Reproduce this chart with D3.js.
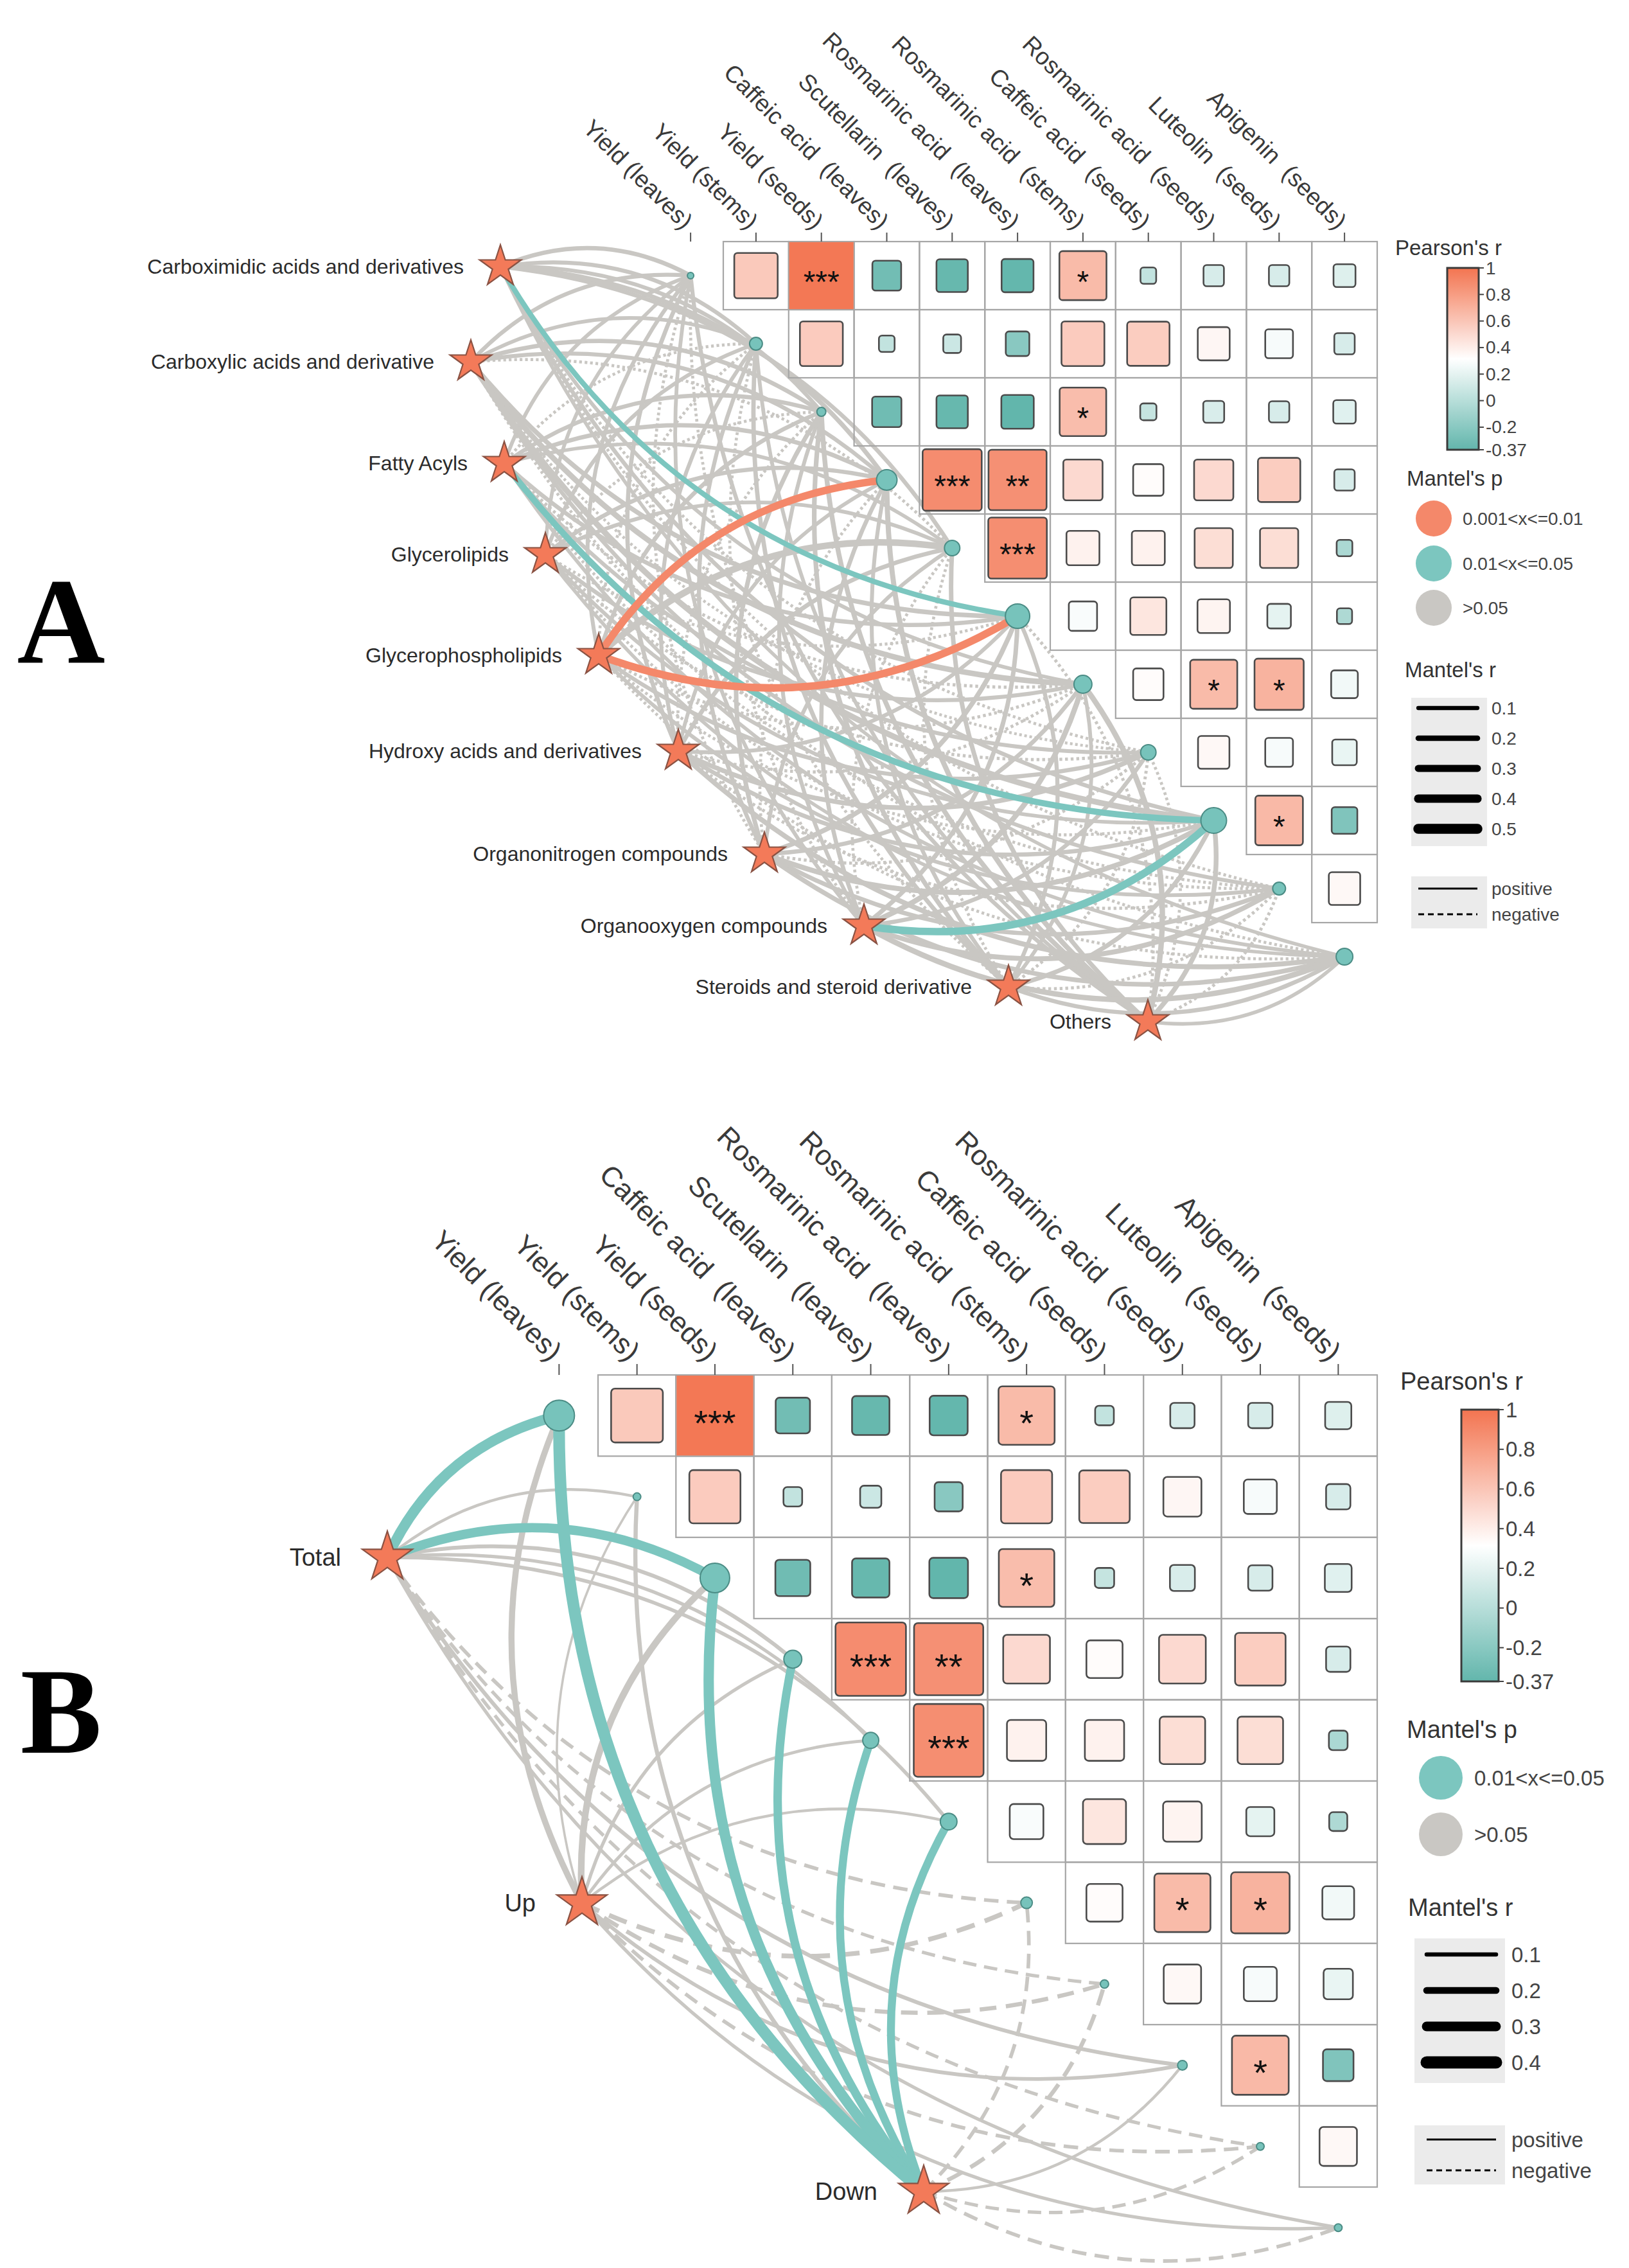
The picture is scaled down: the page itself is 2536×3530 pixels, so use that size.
<!DOCTYPE html>
<html><head><meta charset="utf-8">
<script src="https://cdn.jsdelivr.net/npm/d3@7"></script>
<style>body{margin:0;background:#fff}svg{display:block}text{font-family:"Liberation Sans",Arial,sans-serif}</style>
</head><body><svg id="c" width="2536" height="3530"></svg>
<script>
// ---------------- DATA ----------------
const variables = ["Yield (leaves)","Yield (stems)","Yield (seeds)","Caffeic acid  (leaves)","Scutellarin  (leaves)",
  "Rosmarinic acid  (leaves)","Rosmarinic acid  (stems)","Caffeic acid  (seeds)","Rosmarinic acid  (seeds)",
  "Luteolin  (seeds)","Apigenin  (seeds)"];
// Pearson's r, upper triangle: row i holds variables i+1..10
const pearsonRows = [
  [0.58, 0.98, -0.30, -0.35, -0.36, 0.65, 0.05, 0.14, 0.14, 0.17],
  [0.57, 0.05, 0.09, -0.20, 0.57, 0.56, 0.36, 0.28, 0.14],
  [-0.31, -0.35, -0.37, 0.64, 0.06, 0.15, 0.14, 0.18],
  [0.88, 0.86, 0.50, 0.33, 0.50, 0.56, 0.14],
  [0.87, 0.38, 0.38, 0.48, 0.48, -0.05],
  [0.29, 0.44, 0.37, 0.20, -0.04],
  [0.33, 0.65, 0.69, 0.26],
  [0.35, 0.28, 0.22],
  [0.66, -0.24],
  [0.35]
];
const signifRows = [
  ["", "***", "", "", "", "*", "", "", "", ""],
  ["", "", "", "", "", "", "", "", ""],
  ["", "", "", "*", "", "", "", ""],
  ["***", "**", "", "", "", "", ""],
  ["***", "", "", "", "", ""],
  ["", "", "", "", ""],
  ["", "*", "*", ""],
  ["", "", ""],
  ["*", ""],
  [""]
];
const colorTicks = [1, 0.8, 0.6, 0.4, 0.2, 0, -0.2, -0.37];

// Panel A: metabolite classes vs variables
const groupsA = ["Carboximidic acids and derivatives","Carboxylic acids and derivative","Fatty Acyls","Glycerolipids",
  "Glycerophospholipids","Hydroxy acids and derivatives","Organonitrogen compounds","Organooxygen compounds",
  "Steroids and steroid derivative","Others"];
const mantelRA = [
  [0.12, 0.10, 0.09, 0.13, 0.11, 0.18, 0.08, -0.03, 0.10, -0.03, 0.06],
  [0.10, 0.08, 0.12, 0.10, -0.03, 0.14, 0.20, -0.02, 0.22, 0.09, -0.03],
  [0.08, -0.03, 0.10, 0.12, 0.07, 0.11, -0.04, 0.09, 0.25, -0.03, 0.07],
  [0.07, 0.09, -0.03, 0.11, 0.08, -0.03, 0.10, -0.04, 0.08, -0.03, 0.06],
  [0.09, -0.03, 0.11, 0.33, 0.27, 0.34, -0.04, 0.10, -0.03, 0.08, -0.03],
  [0.11, 0.09, -0.03, 0.08, 0.12, 0.09, -0.04, 0.15, 0.11, -0.04, 0.16],
  [-0.03, 0.10, 0.13, -0.03, 0.09, 0.15, 0.11, -0.04, 0.17, 0.12, 0.14],
  [0.08, -0.03, 0.09, 0.11, -0.03, 0.13, 0.18, 0.10, 0.33, 0.16, 0.19],
  [-0.03, 0.12, 0.14, 0.09, -0.03, 0.10, 0.08, -0.04, 0.13, -0.04, 0.11],
  [0.10, 0.08, 0.15, 0.17, 0.13, -0.04, 0.19, -0.03, 0.15, -0.04, 0.07]
];
// Mantel's p class: 0 = >0.05, 1 = 0.01<x<=0.05, 2 = 0.001<x<=0.01
const mantelPA = [
  [0,0,0,0,0,1,0,0,0,0,0],
  [0,0,0,0,0,0,0,0,0,0,0],
  [0,0,0,0,0,0,0,0,1,0,0],
  [0,0,0,0,0,0,0,0,0,0,0],
  [0,0,0,2,0,2,0,0,0,0,0],
  [0,0,0,0,0,0,0,0,0,0,0],
  [0,0,0,0,0,0,0,0,0,0,0],
  [0,0,0,0,0,0,0,0,1,0,0],
  [0,0,0,0,0,0,0,0,0,0,0],
  [0,0,0,0,0,0,0,0,0,0,0]
];
const nodeSizeA = [5, 10, 7, 16, 12, 19, 14, 12, 20, 10, 13];
const pLabelsA = ["0.001<x<=0.01", "0.01<x<=0.05", ">0.05"];
const rBreaksA = [0.1, 0.2, 0.3, 0.4, 0.5];

// Panel B: Total / Up / Down
const groupsB = ["Total", "Up", "Down"];
const mantelRB = [
  [0.33, 0.05, 0.29, 0.09, 0.07, 0.08, -0.08, -0.07, 0.09, -0.07, 0.07],
  [0.17, 0.03, 0.19, 0.07, 0.06, 0.05, -0.12, -0.10, 0.08, -0.08, 0.07],
  [0.38, 0.10, 0.33, 0.26, 0.24, 0.24, -0.08, -0.10, 0.05, -0.07, -0.08]
];
const mantelPB = [
  [1,0,1,0,0,0,0,0,0,0,0],
  [0,0,0,0,0,0,0,0,0,0,0],
  [1,0,1,1,1,1,0,0,0,0,0]
];
const nodeSizeB = [24, 6, 23, 14, 12.5, 13, 9, 6.5, 7.5, 6, 6];
const pLabelsB = ["0.01<x<=0.05", ">0.05"];
const rBreaksB = [0.1, 0.2, 0.3, 0.4];

// ---------------- STYLE ----------------
const ORANGE = "#F37450", TEAL = "#62B6AC";
const fillScale = d3.scaleLinear().domain([-0.37, 0.315, 1]).range([TEAL, "#ffffff", ORANGE]).interpolate(d3.interpolateRgb);
const pColor = ["#C9C7C3", "#7CC6BF", "#F4886A"];
const svg = d3.select("#c");

function drawPanel(P) {
  const g = svg.append("g");
  const x = d3.scaleBand().domain(variables).range([P.gx0 - P.cw, P.gx0 + 10 * P.cw]);
  const y = d3.scaleBand().domain(variables).range([P.gy0, P.gy0 + 11 * P.ch]);
  const cx = v => x(v) + x.bandwidth() / 2, cy = v => y(v) + y.bandwidth() / 2;
  const wScale = d3.scaleLinear().domain(P.wDomain).range(P.wRange);
  const lw = r => Math.max(P.minW, wScale(Math.abs(r)));

  // edges
  const edges = [];
  P.mantelR.forEach((row, s) => row.forEach((r, j) => edges.push({ s, j, r, p: P.mantelP[s][j] })));
  edges.sort((a, b) => (a.p - b.p) || (Math.abs(a.r) - Math.abs(b.r)));
  g.append("g").selectAll("path").data(edges).join("path")
    .attr("d", d => {
      const [x1, y1] = P.stars[d.s];
      const x2 = cx(variables[d.j]), y2 = cy(variables[d.j]);
      const dx = x2 - x1, dy = y2 - y1, L = Math.hypot(dx, dy);
      const side = (d.j + 1) <= P.leftUpTo ? 1 : -1;
      const k = P.bend * L * side;
      const c1 = (x1 + x2) / 2 + (dy / L) * k, c2 = (y1 + y2) / 2 - (dx / L) * k;
      const p = d3.path(); p.moveTo(x1, y1); p.quadraticCurveTo(c1, c2, x2, y2); return p.toString();
    })
    .attr("fill", "none")
    .attr("stroke", d => pColor[d.p])
    .attr("stroke-width", d => lw(d.r))
    .attr("stroke-dasharray", d => d.r < 0 ? P.dash(lw(d.r)) : null);

  // grid cells
  const cells = [];
  pearsonRows.forEach((row, i) => row.forEach((r, k) => cells.push({ i, j: i + 1 + k, r, s: signifRows[i][k] })));
  g.append("g").selectAll("rect").data(cells).join("rect")
    .attr("x", d => x(variables[d.j])).attr("y", d => y(variables[d.i]))
    .attr("width", x.bandwidth()).attr("height", y.bandwidth())
    .attr("fill", "none").attr("stroke", "#a6a6a6").attr("stroke-width", 2.2);
  const sz = r => Math.min(1, 0.2 + 0.8 * Math.abs(r));
  g.append("g").selectAll("rect").data(cells).join("rect")
    .attr("x", d => cx(variables[d.j]) - x.bandwidth() * sz(d.r) / 2)
    .attr("y", d => cy(variables[d.i]) - y.bandwidth() * sz(d.r) / 2)
    .attr("width", d => x.bandwidth() * sz(d.r)).attr("height", d => y.bandwidth() * sz(d.r))
    .attr("rx", d => Math.abs(d.r) > 0.95 ? 0 : P.rx)
    .attr("fill", d => fillScale(d.r))
    .attr("stroke", d => Math.abs(d.r) > 0.95 ? "none" : "#4b4b4b").attr("stroke-width", 2.6);
  g.append("g").selectAll("text").data(cells.filter(d => d.s)).join("text")
    .attr("x", d => cx(variables[d.j])).attr("y", d => cy(variables[d.i]) + P.starFs * 0.55)
    .attr("text-anchor", "middle").attr("font-size", P.starFs).attr("fill", "#111").text(d => d.s);

  // top ticks + labels
  const tickTop = P.gy0 - P.tickLen;
  g.append("g").selectAll("line").data(variables).join("line")
    .attr("x1", cx).attr("x2", cx).attr("y1", tickTop).attr("y2", P.gy0)
    .attr("stroke", "#555").attr("stroke-width", 2);
  g.append("g").selectAll("text").data(variables).join("text")
    .attr("transform", v => `translate(${cx(v) - 3},${tickTop - P.labGap}) rotate(45)`)
    .attr("text-anchor", "end").attr("dy", "0.35em").style("white-space", "pre")
    .attr("font-size", P.topFs).attr("fill", "#3a3a3a").text(v => v);

  // nodes
  g.append("g").selectAll("circle").data(variables).join("circle")
    .attr("cx", cx).attr("cy", cy).attr("r", (v, i) => P.nodeSize[i])
    .attr("fill", "#77C3BB").attr("stroke", "#4B8C85").attr("stroke-width", 2);

  // stars
  const starPath = d3.symbol(d3.symbolStar).size(P.starR * P.starR / 0.8908130915292852)();
  g.append("g").selectAll("path").data(P.groups).join("path")
    .attr("transform", (d, i) => `translate(${P.stars[i][0]},${P.stars[i][1]})`)
    .attr("d", starPath).attr("fill", "#F37A59").attr("stroke", "#8A5243").attr("stroke-width", 2.2);
  g.append("g").selectAll("text").data(P.groups).join("text")
    .attr("x", (d, i) => P.stars[i][0] - P.labelGap).attr("y", (d, i) => P.stars[i][1])
    .attr("text-anchor", "end").attr("dominant-baseline", "central")
    .attr("font-size", P.groupFs).attr("fill", "#2b2b2b").text(d => d);

  // panel letter
  svg.append("text").attr("x", 95).attr("y", P.letterY).attr("text-anchor", "middle")
    .attr("dominant-baseline", "central").style("font-family", "'Liberation Serif','Times New Roman',serif")
    .attr("font-weight", "bold").attr("font-size", 190).attr("fill", "#000").text(P.letter);

  // ---------- legend ----------
  const L = P.leg, lg = svg.append("g");
  const title = (t, xx, yy) => lg.append("text").attr("x", xx).attr("y", yy).attr("dominant-baseline", "central")
    .attr("font-size", L.tf).attr("fill", "#333").text(t);
  title("Pearson's r", L.t1[0], L.t1[1]);
  const grad = svg.append("defs").append("linearGradient").attr("id", "grad" + P.letter)
    .attr("x1", 0).attr("y1", 1).attr("x2", 0).attr("y2", 0);
  d3.range(0, 1.0001, 0.05).forEach(t => grad.append("stop").attr("offset", t)
    .attr("stop-color", fillScale(-0.37 + t * 1.37)));
  const cb = L.cb;
  lg.append("rect").attr("x", cb.x).attr("y", cb.y).attr("width", cb.w).attr("height", cb.h)
    .attr("fill", `url(#grad${P.letter})`).attr("stroke", "#3a3a3a").attr("stroke-width", 3);
  const cbY = d3.scaleLinear().domain([-0.37, 1]).range([cb.y + cb.h, cb.y]);
  lg.selectAll(".ct").data(colorTicks).join("line").attr("x1", cb.x + cb.w).attr("x2", cb.x + cb.w + 8)
    .attr("y1", cbY).attr("y2", cbY).attr("stroke", "#444").attr("stroke-width", 2);
  lg.selectAll(".cl").data(colorTicks).join("text").attr("x", cb.x + cb.w + 11).attr("y", cbY)
    .attr("dominant-baseline", "central").attr("font-size", L.lf).attr("fill", "#444").text(d => d);

  title("Mantel's p", L.t2[0], L.t2[1]);
  L.pY.forEach((yy, i) => {
    lg.append("circle").attr("cx", L.pX).attr("cy", yy).attr("r", L.pR).attr("fill", pColor[L.pCls[i]]);
    lg.append("text").attr("x", L.pLX).attr("y", yy).attr("dominant-baseline", "central")
      .attr("font-size", L.lf).attr("fill", "#444").text(P.pLabels[i]);
  });

  title("Mantel's r", L.t3[0], L.t3[1]);
  lg.append("rect").attr("x", L.box1[0]).attr("y", L.box1[1]).attr("width", L.box1[2]).attr("height", L.box1[3]).attr("fill", "#ebebeb");
  P.rBreaks.forEach((b, i) => {
    const yy = L.rY0 + i * L.rStep;
    lg.append("line").attr("x1", L.lx1).attr("x2", L.lx2).attr("y1", yy).attr("y2", yy)
      .attr("stroke", "#000").attr("stroke-width", wScale(b)).attr("stroke-linecap", "round");
    lg.append("text").attr("x", L.rLX).attr("y", yy).attr("dominant-baseline", "central")
      .attr("font-size", L.lf).attr("fill", "#444").text(b);
  });
  lg.append("rect").attr("x", L.box2[0]).attr("y", L.box2[1]).attr("width", L.box2[2]).attr("height", L.box2[3]).attr("fill", "#ebebeb");
  [["positive", null], ["negative", "9,6"]].forEach(([t, da], i) => {
    const yy = L.pnY[i];
    lg.append("line").attr("x1", L.lx1).attr("x2", L.lx2).attr("y1", yy).attr("y2", yy)
      .attr("stroke", "#000").attr("stroke-width", 3).attr("stroke-dasharray", da);
    lg.append("text").attr("x", L.rLX).attr("y", yy).attr("dominant-baseline", "central")
      .attr("font-size", L.lf).attr("fill", "#444").text(t);
  });
}

drawPanel({
  letter: "A", letterY: 968,
  gx0: 1126, gy0: 376, cw: 101.8, ch: 106, tickLen: 14, labGap: 12, topFs: 37, starFs: 48, rx: 5,
  groups: groupsA, mantelR: mantelRA, mantelP: mantelPA, nodeSize: nodeSizeA,
  stars: [[779,415],[733,563],[785,721],[849,863],[932,1020],[1056,1169],[1190,1329],[1345,1441],[1570,1536],[1787,1590]],
  starR: 34, labelGap: 57, groupFs: 32,
  wDomain: [0.1, 0.5], wRange: [6.3, 15.5], minW: 3.6, dash: w => `${w * 0.9},${w * 0.9}`,
  bend: 0.24, leftUpTo: 5,
  pLabels: pLabelsA, rBreaks: rBreaksA,
  leg: { tf: 33, lf: 28, t1: [2172, 385], cb: { x: 2253, y: 417, w: 49, h: 283 },
    t2: [2190, 744], pX: 2232, pY: [807, 877, 946], pR: 28, pCls: [2, 1, 0], pLX: 2277,
    t3: [2187, 1042], box1: [2197, 1086, 118, 231], lx1: 2208, lx2: 2300, rY0: 1102, rStep: 47, rLX: 2322,
    box2: [2197, 1364, 118, 81], pnY: [1383, 1423] }
});

drawPanel({
  letter: "B", letterY: 2664,
  gx0: 931, gy0: 2140, cw: 121.3, ch: 126.4, tickLen: 17, labGap: 13, topFs: 44, starFs: 56, rx: 6,
  groups: groupsB, mantelR: mantelRB, mantelP: mantelPB, nodeSize: nodeSizeB,
  stars: [[603,2424],[906,2962],[1438,3411]],
  starR: 41, labelGap: 72, groupFs: 38,
  wDomain: [0.1, 0.4], wRange: [6.5, 19], minW: 2.5, dash: w => `${w * 4},${w * 2.3}`,
  bend: 0.24, leftUpTo: 6,
  pLabels: pLabelsB, rBreaks: rBreaksB,
  leg: { tf: 38, lf: 33, t1: [2180, 2150], cb: { x: 2275, y: 2194, w: 58, h: 423 },
    t2: [2190, 2692], pX: 2243, pY: [2767, 2855], pR: 34, pCls: [1, 0], pLX: 2295,
    t3: [2192, 2969], box1: [2202, 3017, 141, 225], lx1: 2221, lx2: 2329, rY0: 3042, rStep: 56, rLX: 2353,
    box2: [2202, 3308, 141, 92], pnY: [3330, 3378] }
});
</script></body></html>
